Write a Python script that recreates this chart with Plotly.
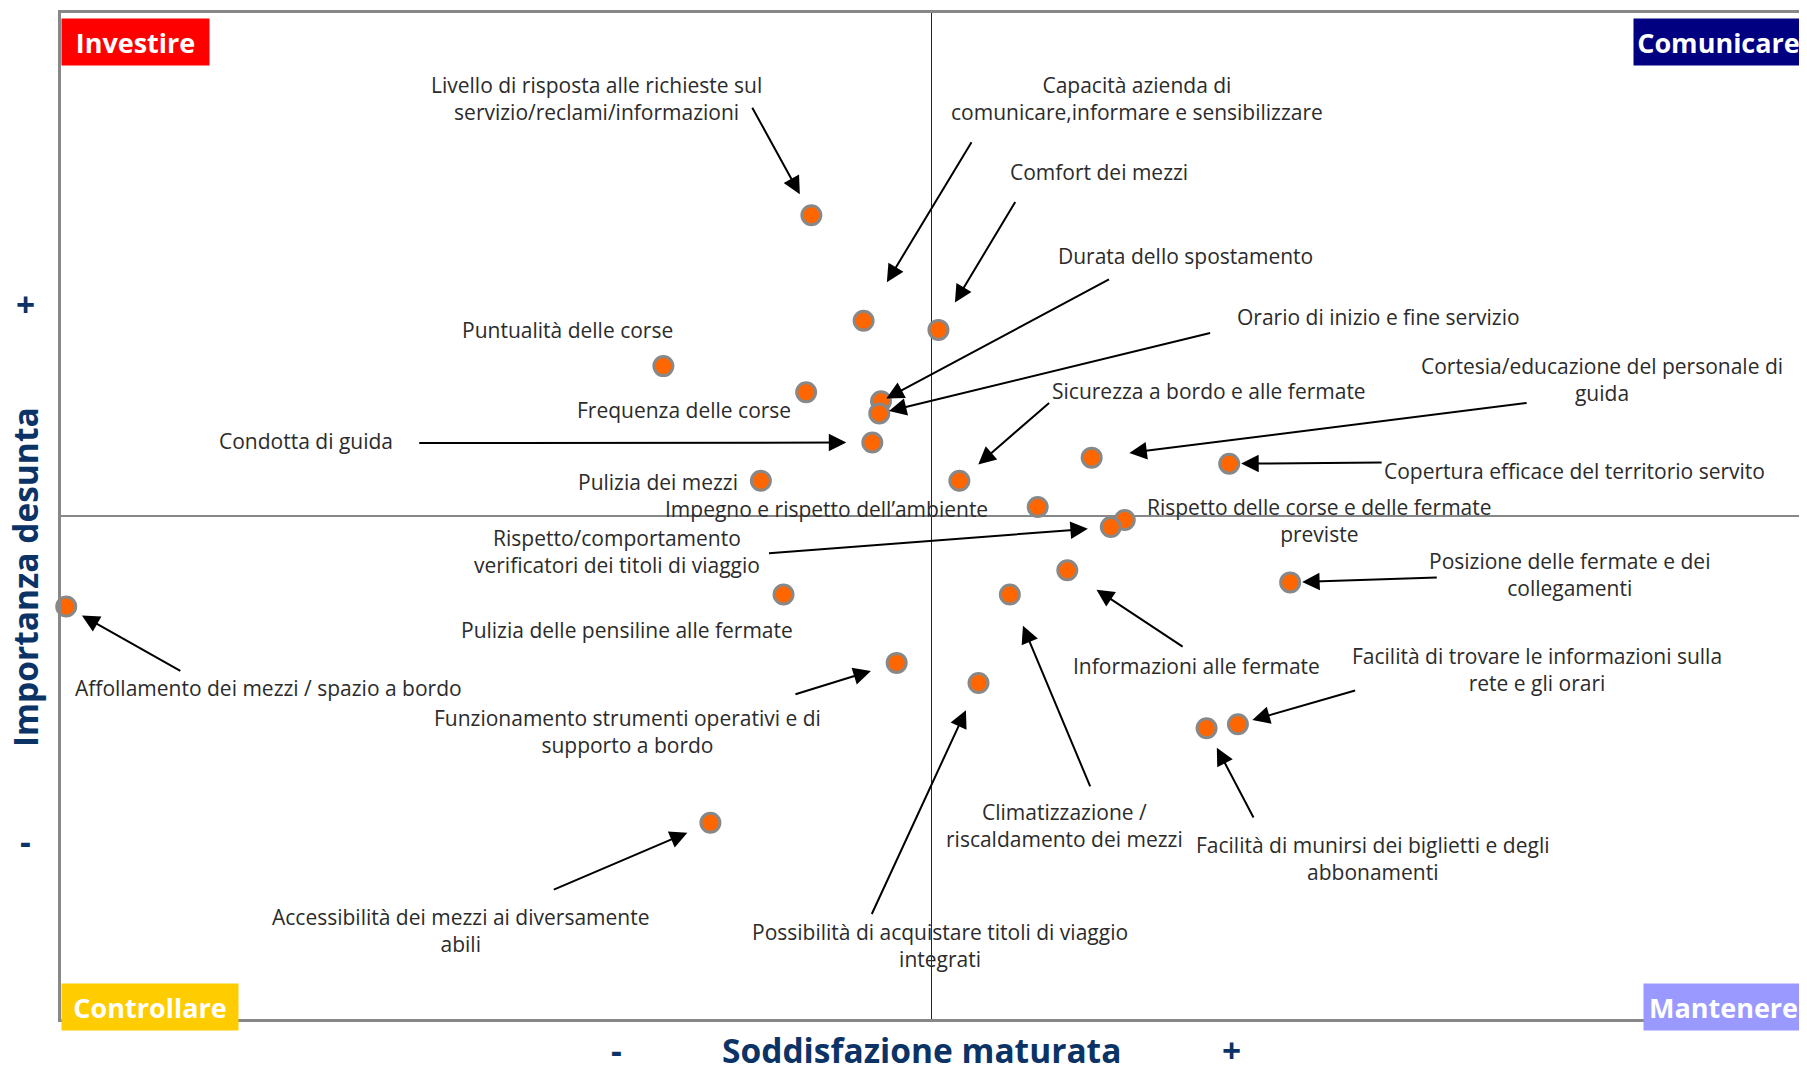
import plotly.graph_objects as go

# attributes (importance / satisfaction map)
labels = [
    "Livello di risposta alle richieste sul<br>servizio/reclami/informazioni",
    "Capacità azienda di<br>comunicare,informare e sensibilizzare",
    "Comfort dei mezzi",
    "Durata dello spostamento",
    "Orario di inizio e fine servizio",
    "Puntualità delle corse",
    "Frequenza delle corse",
    "Condotta di guida",
    "Pulizia dei mezzi",
    "Sicurezza a bordo e alle fermate",
    "Impegno e rispetto dell\u2019ambiente",
    "Cortesia/educazione del personale di<br>guida",
    "Copertura efficace del territorio servito",
    "Rispetto delle corse e delle fermate<br>previste",
    "Rispetto/comportamento<br>verificatori dei titoli di viaggio",
    "Posizione delle fermate e dei<br>collegamenti",
    "Informazioni alle fermate",
    "Pulizia delle pensiline alle fermate",
    "Climatizzazione /<br>riscaldamento dei mezzi",
    "Affollamento dei mezzi / spazio a bordo",
    "Funzionamento strumenti operativi e di<br>supporto a bordo",
    "Possibilità di acquistare titoli di viaggio<br>integrati",
    "Facilità di trovare le informazioni sulla<br>rete e gli orari",
    "Facilità di munirsi dei biglietti e degli<br>abbonamenti",
    "Accessibilità dei mezzi ai diversamente<br>abili",
]
soddisfazione = [43.1, 46.1, 50.4, 47.1, 47.0, 34.6, 42.8, 46.6, 40.2, 51.6, 56.1, 59.2, 67.1,
                 61.1, 60.3, 70.6, 57.8, 41.5, 54.5, 0.3, 48.0, 52.7, 67.6, 65.8, 37.3]
importanza = [79.9, 69.4, 68.5, 61.4, 60.2, 64.9, 62.3, 57.3, 53.5, 53.5, 50.9, 55.8, 55.2,
              49.6, 48.9, 43.4, 44.6, 42.2, 42.2, 41.0, 35.4, 33.4, 29.3, 28.9, 19.5]

# label placement (axis units) and arrow tails (None = no arrow)
label_x = [30.73, 61.8, 59.62, 64.57, 75.68, 29.08, 35.76, 14.08, 34.3, 65.96, 43.95, 88.5, 86.91,
           72.31, 31.92, 86.65, 65.23, 32.52, 57.63, 11.9, 32.52, 50.5, 84.8, 75.35, 22.93]
label_y = [91.54, 91.54, 84.23, 75.89, 69.83, 68.46, 60.57, 57.49, 53.37, 62.4, 50.74, 63.54, 54.51,
           49.6, 46.51, 44.23, 35.09, 38.63, 19.2, 32.91, 28.57, 7.31, 34.74, 16.0, 8.8]
arrow_tail = [(39.66, 90.74), (52.35, 87.31), (54.86, 81.37), (60.28, 73.6), (66.09, 68.23),
              None, None, (20.49, 57.26), None, (56.84, 61.37), None, (84.27, 61.26),
              (75.94, 55.31), None, (40.58, 46.29), (79.11, 43.89), (64.51, 36.91), None,
              (59.15, 22.97), (6.94, 34.51), (42.1, 32.23), (46.53, 10.29), (74.42, 32.69),
              (68.54, 19.89), (28.22, 12.8)]
arrow_gap = [24, 45, 32, 6, 10, 0, 0, 26, 0, 25, 0, 38, 12, 0, 23, 12, 35, 0, 34, 18, 27, 30, 15, 22, 25]

quadrants = [("Investire", "#FF0000"), ("Comunicare", "#000080"),
             ("Controllare", "#FFCC00"), ("Mantenere", "#9999FF")]

FONT = "Open Sans, Noto Sans, sans-serif"
TXT = dict(family=FONT, size=21, color="#2b2b2b")
NAVY = "#0B3366"

fig = go.Figure()
fig.add_trace(go.Scatter(
    x=soddisfazione, y=importanza, mode="markers", cliponaxis=False,
    marker=dict(size=19, color="#FF6600", line=dict(color="#888888", width=3)),
    hoverinfo="skip", showlegend=False))

# quadrant dividers
fig.add_shape(type="line", x0=50, x1=50, y0=0, y1=100, line=dict(color="#222222", width=1), layer="below")
fig.add_shape(type="line", x0=0, x1=100, y0=50, y1=50, line=dict(color="#888888", width=2), layer="below")

ann = []
for i, lab in enumerate(labels):
    ann.append(dict(x=label_x[i], y=label_y[i], text=lab, showarrow=False, font=TXT,
                    xanchor="center", yanchor="middle", align="center"))
    if arrow_tail[i] is not None:
        ann.append(dict(x=soddisfazione[i], y=importanza[i], ax=arrow_tail[i][0], ay=arrow_tail[i][1],
                        axref="x", ayref="y", text="", showarrow=True, arrowhead=2, arrowsize=1.75,
                        arrowwidth=2, arrowcolor="black", standoff=arrow_gap[i]))

qfont = dict(family=FONT, size=27, color="white", weight="bold")
pos = [(0, 1, "left", "top", 0, -5), (1, 1, "right", "top", 2, -5),
       (0, 0, "left", "bottom", 0, -12), (1, 0, "right", "bottom", 2, -12)]
widths = [139, 161, 168, 151]
for (name, col), (px, py, xa, ya, xs, ys), w in zip(quadrants, pos, widths):
    ann.append(dict(xref="paper", yref="paper", x=px, y=py, xanchor=xa, yanchor=ya, xshift=xs, yshift=ys,
                    text=name, showarrow=False, font=qfont, bgcolor=col, borderpad=4,
                    width=w, height=38, align="center"))

tfont = dict(family=FONT, size=33.5, color=NAVY, weight="bold")
ann += [
    dict(xref="paper", yref="paper", x=0.494, y=-0.031, text="Soddisfazione maturata", showarrow=False,
         font=tfont, xanchor="center", yanchor="middle"),
    dict(xref="paper", yref="paper", x=0.319, y=-0.031, text="-", showarrow=False, font=tfont,
         xanchor="center", yanchor="middle"),
    dict(xref="paper", yref="paper", x=0.6726, y=-0.031, text="+", showarrow=False, font=tfont,
         xanchor="center", yanchor="middle"),
    dict(xref="paper", yref="paper", x=-0.0206, y=0.4395, text="Importanza desunta", showarrow=False,
         font=tfont, textangle=-90, xanchor="center", yanchor="middle"),
    dict(xref="paper", yref="paper", x=-0.0206, y=0.711, text="+", showarrow=False, font=tfont,
         xanchor="center", yanchor="middle"),
    dict(xref="paper", yref="paper", x=-0.0206, y=0.1766, text="-", showarrow=False, font=tfont,
         xanchor="center", yanchor="middle"),
]

axis = dict(range=[0, 100], showgrid=False, zeroline=False, showticklabels=False, ticks="",
            showline=True, mirror=True, linecolor="#888888", linewidth=3, fixedrange=True)
# page body adds an 8px offset: shrink the figure so the plot lands on the same pixels
fig.update_layout(
    width=1799, height=1059,
    margin=dict(l=53, r=2, t=3, b=48),
    paper_bgcolor="white", plot_bgcolor="white",
    xaxis=axis, yaxis=axis,
    annotations=ann,
)

fig.write_html("out.html")
